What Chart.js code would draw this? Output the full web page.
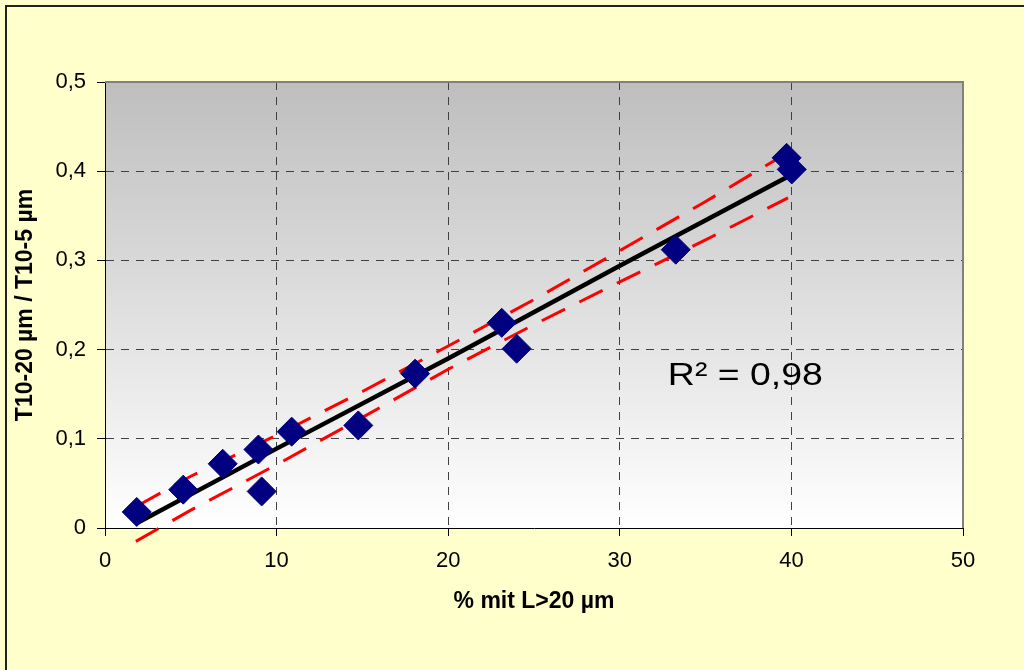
<!DOCTYPE html>
<html>
<head>
<meta charset="utf-8">
<script src="https://cdn.jsdelivr.net/npm/chart.js@4/dist/chart.umd.min.js"></script>
<style>
  html, body { margin: 0; padding: 0; background: #ffffcc; }
  #wrap { position: relative; width: 1024px; height: 670px; }
</style>
</head>
<body>
<div id="wrap"><canvas id="chart"></canvas></div>
<script>
// measured points
const ptX = [1.85, 4.56, 6.86, 8.94, 9.13, 10.88, 14.76, 18.07, 23.12, 23.99, 33.26, 39.72, 40.02];
const ptY = [0.018, 0.043, 0.072, 0.088, 0.041, 0.108, 0.115, 0.173, 0.230, 0.201, 0.312, 0.415, 0.402];

// regression line
const fitX = [1.9, 10, 20, 30, 39.7];
const fitY = [0.006, 0.089, 0.190, 0.294, 0.393];

// confidence band
const upX = [1.9, 5, 10, 15, 20, 25, 30, 35, 39.8];
const upY = [0.025, 0.058, 0.104, 0.153, 0.204, 0.256, 0.311, 0.366, 0.421];
const loX = [1.8, 5, 10, 15, 20, 25, 30, 35, 39.8];
const loY = [-0.015, 0.020, 0.071, 0.124, 0.178, 0.228, 0.276, 0.323, 0.370];

const xTicks = ['0', '10', '20', '30', '40', '50'];
const yTicks = ['0', '0,1', '0,2', '0,3', '0,4', '0,5'];

const xTitle = '% mit L>20 µm';
const yTitle = 'T10-20 µm / T10-5 µm';
const r2Text = 'R² = 0,98';
const r2At = { x: 32.8, y: 0.16 };

const FONT = "'Liberation Sans', Arial, sans-serif";

const toXY = (xs, ys) => xs.map((x, i) => ({ x: x, y: ys[i] }));

const backdrop = {
  id: 'backdrop',
  beforeDraw(chart) {
    const { ctx, chartArea: a, width, height } = chart;
    ctx.save();
    ctx.fillStyle = '#ffffcc';
    ctx.fillRect(0, 0, width, height);
    // outer frame (runs off the right and bottom edge)
    ctx.fillStyle = '#222';
    ctx.fillRect(5, 5, width, 2);
    ctx.fillRect(5, 5, 2, height);
    const g = ctx.createLinearGradient(0, a.top, 0, a.bottom);
    g.addColorStop(0, '#bebebe');
    g.addColorStop(1, '#ffffff');
    ctx.fillStyle = g;
    ctx.fillRect(a.left, a.top, a.right - a.left, a.bottom - a.top);
    ctx.restore();
  },
  beforeDatasetsDraw(chart) {
    const { ctx, chartArea: a } = chart;
    ctx.save();
    ctx.strokeStyle = '#808080';
    ctx.lineWidth = 2;
    ctx.beginPath();
    ctx.moveTo(a.left, a.top);
    ctx.lineTo(a.right, a.top);
    ctx.lineTo(a.right, a.bottom);
    ctx.stroke();
    ctx.restore();
  },
  afterDatasetsDraw(chart) {
    const { ctx, scales } = chart;
    const px = scales.x.getPixelForValue(r2At.x);
    const py = scales.y.getPixelForValue(r2At.y);
    ctx.save();
    ctx.fillStyle = '#000';
    ctx.font = '32px ' + FONT;
    ctx.textAlign = 'left';
    ctx.textBaseline = 'alphabetic';
    // the original text is a bit wider than plain Arial
    ctx.translate(px, py);
    ctx.scale(1.17, 1);
    ctx.fillText(r2Text, 0, 0);
    ctx.restore();
  }
};

const edgeHidden = (lo, hi) => (c) =>
  (c.tick && (c.tick.value === lo || c.tick.value === hi)) ? 'rgba(0,0,0,0)' : '#404040';

new Chart(document.getElementById('chart'), {
  type: 'scatter',
  data: {
    datasets: [
      {
        data: toXY(ptX, ptY),
        pointStyle: 'rectRot',
        pointRadius: 14.5,
        backgroundColor: '#000080',
        borderColor: '#000080',
        borderWidth: 1,
        order: 0
      },
      {
        data: toXY(fitX, fitY),
        showLine: true,
        pointRadius: 0,
        borderColor: '#000',
        borderWidth: 4.5,
        order: 1
      },
      {
        data: toXY(upX, upY),
        showLine: true,
        pointRadius: 0,
        borderColor: '#ff0000',
        borderWidth: 3,
        borderDash: [26, 16],
        clip: false,
        order: 2
      },
      {
        data: toXY(loX, loY),
        showLine: true,
        pointRadius: 0,
        borderColor: '#ff0000',
        borderWidth: 3,
        borderDash: [26, 16],
        clip: false,
        order: 2
      }
    ]
  },
  options: {
    responsive: true,
    maintainAspectRatio: false,
    animation: false,
    layout: { padding: { left: 0, top: 82, right: 61, bottom: 0 } },
    plugins: { legend: { display: false }, tooltip: { enabled: false } },
    scales: {
      x: {
        type: 'linear',
        min: 0,
        max: 50,
        afterFit: (s) => { s.height = 142; },
        ticks: {
          stepSize: 10,
          padding: 12,
          color: '#000',
          font: { family: FONT, size: 22 },
          callback: (v, i) => xTicks[i]
        },
        grid: {
          color: edgeHidden(0, 50),
          lineWidth: 1,
          tickLength: 8,
          tickColor: '#000',
          tickBorderDash: []
        },
        border: { color: '#000', width: 1, dash: [8, 7] },
        title: {
          display: true,
          text: xTitle,
          color: '#000',
          font: { family: FONT, size: 23, weight: 'bold' },
          padding: { top: 0, bottom: 55 }
        }
      },
      y: {
        type: 'linear',
        min: 0,
        max: 0.5,
        afterFit: (s) => { s.width = 105; },
        ticks: {
          stepSize: 0.1,
          padding: 11,
          color: '#000',
          font: { family: FONT, size: 22 },
          callback: (v, i) => yTicks[i]
        },
        grid: {
          color: edgeHidden(0, 0.5),
          lineWidth: 1,
          tickLength: 8,
          tickColor: '#000',
          tickBorderDash: []
        },
        border: { color: '#000', width: 1, dash: [8, 7] },
        title: {
          display: true,
          text: yTitle,
          color: '#000',
          font: { family: FONT, size: 23, weight: 'bold' },
          padding: { top: 12, bottom: 0 }
        }
      }
    }
  },
  plugins: [backdrop]
});
</script>
</body>
</html>
